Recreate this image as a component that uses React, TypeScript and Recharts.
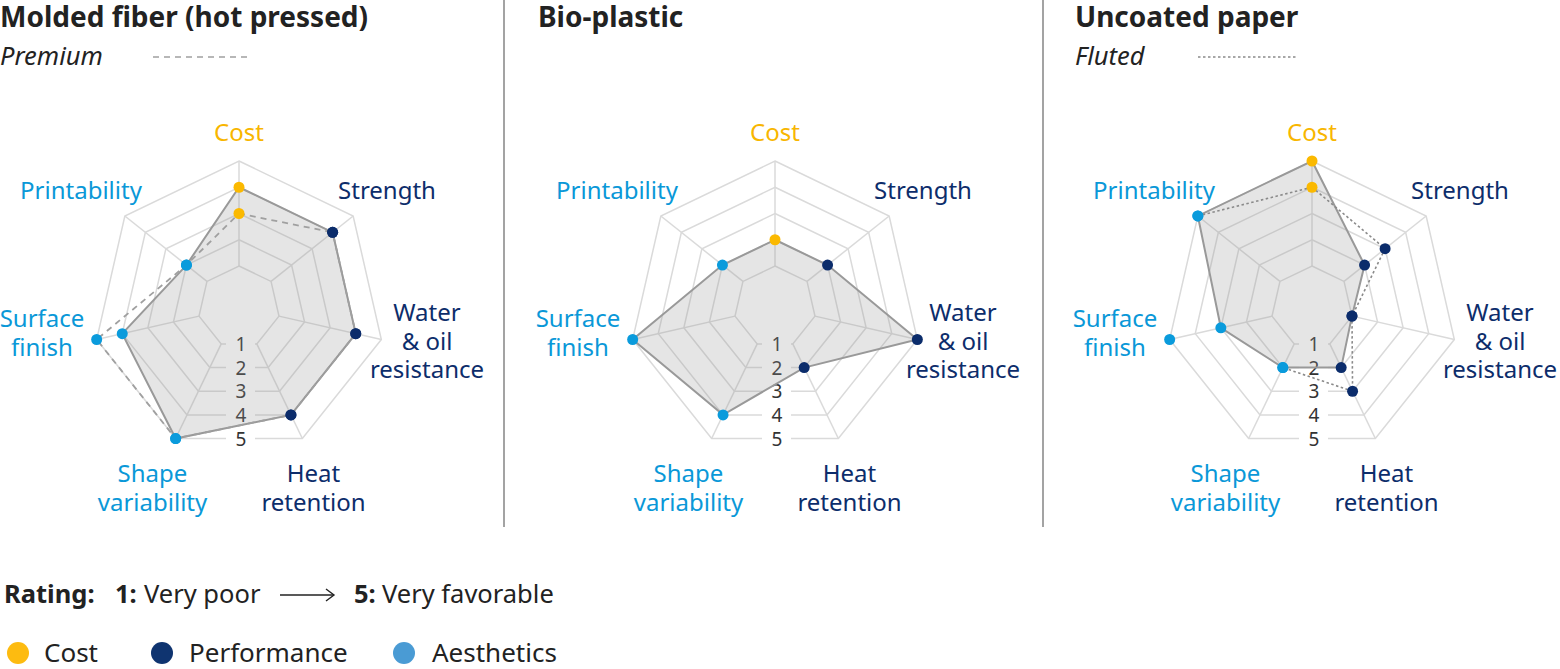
import React from 'react';
import { RadarChart, Radar, PolarGrid, PolarAngleAxis, PolarRadiusAxis } from 'recharts';

// axes, clockwise from the top
const categories = ['Cost', 'Strength', 'Water & oil resistance', 'Heat retention', 'Shape variability', 'Surface finish', 'Printability'];
const categoryLines = [['Cost'], ['Strength'], ['Water', '& oil', 'resistance'], ['Heat', 'retention'], ['Shape', 'variability'], ['Surface', 'finish'], ['Printability']];
const categoryGroups = ['cost', 'performance', 'performance', 'performance', 'aesthetics', 'aesthetics', 'aesthetics'];
const ratingTicks = [1, 2, 3, 4, 5];

// ratings 1..5
const moldedFiber = [4, 4, 4, 4, 5, 4, 2];
const moldedFiberPremium = [3, 4, 4, 4, 5, 5, 2];
const bioPlastic = [2, 2, 5, 2, 4, 5, 2];
const uncoatedPaper = [5, 2, 1, 2, 2, 3, 5];
const uncoatedPaperFluted = [4, 3, 1, 3, 2, 5, 5];
const flutedUnlinked = ['Surface finish'];

const panelTitles = ['Molded fiber (hot pressed)', 'Bio-plastic', 'Uncoated paper'];
const variantNames = ['Premium', '', 'Fluted'];
const legendGroups = ['cost', 'performance', 'aesthetics'];
const legendLabels = ['Cost', 'Performance', 'Aesthetics'];

const FONT = '"Noto Sans", "Open Sans", sans-serif';
const CX = 239;
const CY = 307;
const OUTER = 146;
const INNER = 41;
const COS7 = Math.cos(Math.PI / 7);
const PANEL_X = [0, 536, 1073];

const DOT_COLOR: Record<string, string> = { cost: '#fbb900', performance: '#0b2c6b', aesthetics: '#0a9bdc' };
const LABEL_COLOR: Record<string, string> = { cost: '#f8b600', performance: '#0d2d6b', aesthetics: '#0a98d8' };
const LEGEND_COLOR: Record<string, string> = { cost: '#fdbb10', performance: '#0f3470', aesthetics: '#4a9bd4' };

// label block centres relative to the chart centre
const LABEL_OFFSETS = [[0, -175], [148, -117], [188, 34], [74.5, 181], [-86.5, 181], [-197, 26], [-158, -117]];

const AngleTick = (props: any) => {
  const i = props.index;
  const off = LABEL_OFFSETS[i];
  const lines = categoryLines[i];
  const lh = 28.5;
  const top = CY + off[1] - ((lines.length - 1) * lh) / 2;
  return (
    <text textAnchor="middle" fill={LABEL_COLOR[categoryGroups[i]]} fontSize={24} fontFamily={FONT}>
      {lines.map((l, k) => (
        <tspan key={k} x={CX + off[0]} y={top + k * lh + 8.5}>{l}</tspan>
      ))}
    </text>
  );
};

const RadiusTick = (props: any) => {
  const { x, y, payload } = props;
  const ty = CY + (y - CY) * COS7;
  return (
    <g>
      <rect x={x - 13} y={ty - 11} width={29} height={22} fill="#fff" />
      <text x={x + 2} y={ty + 7} textAnchor="middle" fontSize={19} fill="#333" fontFamily={FONT}>{payload.value}</text>
    </g>
  );
};

const renderDot = (props: any) => {
  const { cx, cy, index } = props;
  return <circle key={`d${index}`} cx={cx} cy={cy} r={5.5} fill={DOT_COLOR[categoryGroups[index]]} />;
};

// open outline that leaves out the segments touching unlinked axes
const openOutline = (skip: string[], dash: string, color: string) => (props: any) => {
  const pts = props.points || [];
  let d = '';
  for (let i = 0; i < pts.length; i++) {
    const j = (i + 1) % pts.length;
    if (skip.includes(categories[i]) || skip.includes(categories[j])) continue;
    d += `M${pts[i].x},${pts[i].y}L${pts[j].x},${pts[j].y}`;
  }
  return <path d={d} fill="none" stroke={color} strokeWidth={1.6} strokeDasharray={dash} />;
};

const Panel = ({ main, alt, altStyle }: { main: number[]; alt?: number[]; altStyle?: 'dash' | 'dot' }) => {
  const rows = categories.map((c, i) => ({ subject: c, main: main[i], alt: alt ? alt[i] : null }));
  return (
    <RadarChart width={500} height={530} data={rows} cx={CX} cy={CY} outerRadius={OUTER} innerRadius={INNER} margin={{ top: 0, right: 0, bottom: 0, left: 0 }}>
      <PolarGrid stroke="#dadada" strokeWidth={1.5} />
      <PolarAngleAxis dataKey="subject" tick={AngleTick} tickLine={false} axisLine={false} />
      <PolarRadiusAxis angle={-90} domain={[1, 5]} ticks={ratingTicks} tickCount={5} axisLine={false} tickLine={false} tick={RadiusTick} zIndex={50} />
      <Radar dataKey="main" stroke="#999" strokeWidth={2} fill="#999" fillOpacity={0.25} dot={renderDot} isAnimationActive={false} />
      {alt && altStyle === 'dash' && (
        <Radar dataKey="alt" stroke="#a0a0a0" strokeWidth={1.8} strokeDasharray="6 5" fill="none" dot={renderDot} isAnimationActive={false} />
      )}
      {alt && altStyle === 'dot' && (
        <Radar dataKey="alt" shape={openOutline(flutedUnlinked, '2.5 2.5', '#8a8a8a')} fill="none" dot={renderDot} isAnimationActive={false} />
      )}
    </RadarChart>
  );
};

export default function App() {
  return (
    <div style={{ position: 'absolute', left: 0, top: 0, width: 1560, height: 669, overflow: 'hidden', background: '#fff', fontFamily: FONT }}>
      <svg width={1560} height={669} style={{ position: 'absolute', left: 0, top: 0 }}>
        <line x1={504} y1={0} x2={504} y2={527} stroke="#666" strokeWidth={1.2} />
        <line x1={1043} y1={0} x2={1043} y2={527} stroke="#666" strokeWidth={1.2} />
        {panelTitles.map((t, i) => (
          <text key={t} x={PANEL_X[i] + (i === 0 ? 0 : 2)} y={27} fontSize={28} fontWeight={700} fill="#222" fontFamily={FONT}>{t}</text>
        ))}
        {variantNames.map((v, i) =>
          v ? (
            <g key={v}>
              <text x={PANEL_X[i] + (i === 0 ? 0 : 2)} y={65} fontSize={25.5} fontStyle="italic" fill="#222" fontFamily={FONT}>{v}</text>
              <line x1={PANEL_X[i] + 153 - (i === 0 ? 0 : 28)} y1={57} x2={PANEL_X[i] + 252 - (i === 0 ? 0 : 28)} y2={57}
                stroke={i === 0 ? '#a0a0a0' : '#8a8a8a'} strokeWidth={1.6} strokeDasharray={i === 0 ? '6 5' : '2.5 2.5'} />
            </g>
          ) : null
        )}
        <text y={603} fontSize={25.5} fill="#222" fontFamily={FONT}>
          <tspan x={4} fontWeight={700}>Rating:</tspan>
          <tspan x={115} fontWeight={700}>1:</tspan>
          <tspan x={144}>Very poor</tspan>
          <tspan x={354} fontWeight={700}>5:</tspan>
          <tspan x={382}>Very favorable</tspan>
        </text>
        <line x1={280} y1={595} x2={334} y2={595} stroke="#222" strokeWidth={1.4} />
        <polyline points="326,589 334,595 326,601" fill="none" stroke="#222" strokeWidth={1.4} />
        {legendGroups.map((g, i) => (
          <g key={g}>
            <circle cx={[18, 162, 404][i]} cy={653} r={11} fill={LEGEND_COLOR[g]} />
            <text x={[44, 189, 432][i]} y={662} fontSize={26} fill="#222" fontFamily={FONT}>{legendLabels[i]}</text>
          </g>
        ))}
      </svg>
      <div style={{ position: 'absolute', left: PANEL_X[0], top: 0 }}>
        <Panel main={moldedFiber} alt={moldedFiberPremium} altStyle="dash" />
      </div>
      <div style={{ position: 'absolute', left: PANEL_X[1], top: 0 }}>
        <Panel main={bioPlastic} />
      </div>
      <div style={{ position: 'absolute', left: PANEL_X[2], top: 0 }}>
        <Panel main={uncoatedPaper} alt={uncoatedPaperFluted} altStyle="dot" />
      </div>
    </div>
  );
}
